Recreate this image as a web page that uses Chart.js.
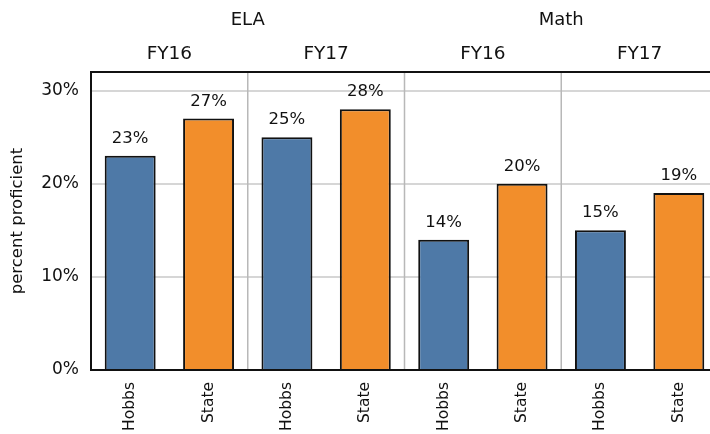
<!DOCTYPE html>
<html>
<head>
<meta charset="utf-8">
<script src="https://cdn.jsdelivr.net/npm/chart.js@4"></script>
<style>
  body { margin: 0; background: #fff; overflow: hidden; }
  #wrap { width: 718px; height: 434px; }
</style>
</head>
<body>
<div id="wrap"><canvas id="profChart"></canvas></div>
<script>
const categories = ['Hobbs', 'State', 'Hobbs', 'State', 'Hobbs', 'State', 'Hobbs', 'State'];
const values = [23, 27, 25, 28, 14, 20, 15, 19];
const yearLabels = ['FY16', 'FY17', 'FY16', 'FY17'];
const subjectLabels = ['ELA', 'Math'];
const yTicks = [0, 10, 20, 30];

const barColors = categories.map(c => c === 'Hobbs' ? '#4e79a7' : '#f28e2b');
const FONT = '"DejaVu Sans", sans-serif';

const extras = {
    id: 'extras',
    afterDatasetsDraw(chart) {
        const ctx = chart.ctx;
        const x = chart.scales.x, y = chart.scales.y;
        const area = chart.chartArea;
        const step = x.getPixelForValue(1) - x.getPixelForValue(0);
        ctx.save();

        // panel separators
        ctx.strokeStyle = '#b8b8b8';
        ctx.lineWidth = 1.5;
        [2, 4, 6].forEach(i => {
            const px = x.getPixelForValue(i) - step / 2;
            ctx.beginPath();
            ctx.moveTo(px, area.top);
            ctx.lineTo(px, area.bottom);
            ctx.stroke();
        });

        // frame
        ctx.strokeStyle = '#111';
        ctx.lineWidth = 2;
        ctx.strokeRect(area.left, area.top, area.right - area.left, area.bottom - area.top);

        // value labels
        ctx.fillStyle = '#111';
        ctx.font = '16.5px ' + FONT;
        ctx.textAlign = 'center';
        ctx.textBaseline = 'alphabetic';
        values.forEach((v, i) => {
            ctx.fillText(v + '%', x.getPixelForValue(i), y.getPixelForValue(v) - 13);
        });

        // header rows
        ctx.font = '18.5px ' + FONT;
        ctx.textBaseline = 'middle';
        yearLabels.forEach((t, i) => {
            const cx = (x.getPixelForValue(i * 2) + x.getPixelForValue(i * 2 + 1)) / 2;
            ctx.fillText(t, cx, 54);
        });
        ctx.font = '18px ' + FONT;
        subjectLabels.forEach((t, i) => {
            const cx = (x.getPixelForValue(i * 4 + 1) + x.getPixelForValue(i * 4 + 2)) / 2;
            ctx.fillText(t, cx, 20);
        });
        ctx.restore();
    }
};

new Chart(document.getElementById('profChart'), {
    type: 'bar',
    data: {
        labels: categories,
        datasets: [{
            data: values,
            backgroundColor: barColors,
            borderColor: '#111',
            borderWidth: 2,
            borderSkipped: 'start',
            categoryPercentage: 1,
            barPercentage: 0.65
        }]
    },
    options: {
        responsive: true,
        maintainAspectRatio: false,
        animation: false,
        layout: { padding: { top: 72, right: 0, left: 0, bottom: 0 } },
        scales: {
            y: {
                min: 0,
                max: 32,
                afterFit: s => { s.width = 91; },
                afterBuildTicks: s => { s.ticks = yTicks.map(v => ({ value: v })); },
                ticks: {
                    color: '#111',
                    font: { family: FONT, size: 17 },
                    padding: 12,
                    callback: v => v + '%'
                },
                grid: { color: '#d6d6d6', lineWidth: 2, drawTicks: false },
                border: { display: false },
                title: {
                    display: true,
                    text: 'percent proficient',
                    color: '#111',
                    font: { family: FONT, size: 16.5 },
                    padding: { top: 8, bottom: 4 }
                }
            },
            x: {
                afterFit: s => { s.height = 64; },
                ticks: {
                    color: '#111',
                    font: { family: FONT, size: 15.5 },
                    minRotation: 90,
                    maxRotation: 90,
                    padding: 4
                },
                grid: { display: false },
                border: { display: false }
            }
        },
        plugins: {
            legend: { display: false },
            tooltip: { enabled: false }
        }
    },
    plugins: [extras]
});
</script>
</body>
</html>
